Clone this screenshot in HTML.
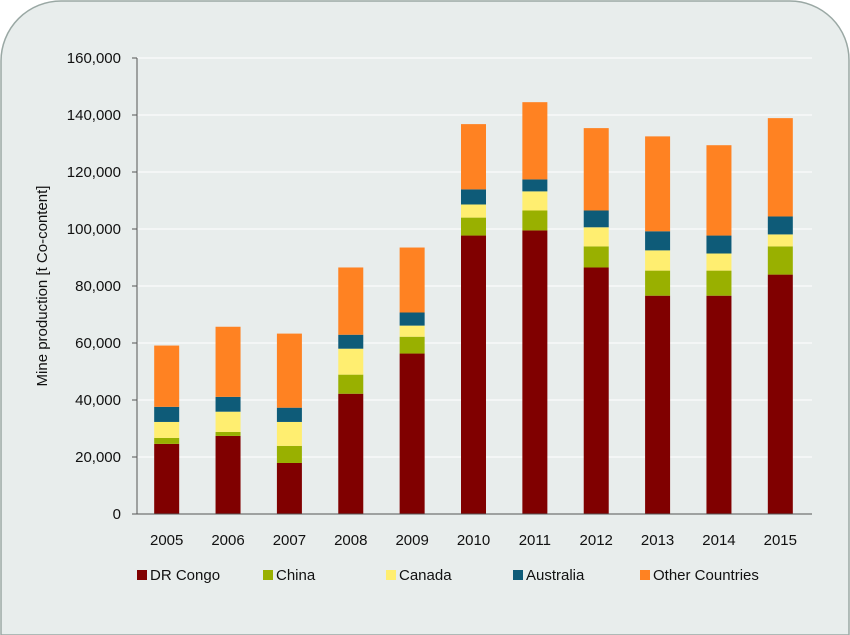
<!DOCTYPE html>
<html><head><meta charset="utf-8"><style>
body{margin:0;background:#fff;width:850px;height:635px;overflow:hidden}
svg{display:block;font-family:"Liberation Sans",sans-serif;overflow:hidden}
</style></head><body>
<svg id="chart" width="850" height="635">
<path d="M1,635 V61 A60,60 0 0 1 61,1 H790 A59,59 0 0 1 849,60 V635 Z" fill="#e8edec" stroke="#9aa8a4" stroke-width="1.5"/>
<g id="grid"></g><g id="bars"></g><g id="axes"></g><g id="legend"></g>
<text x="0" y="0" transform="translate(47,286) rotate(-90)" text-anchor="middle" font-size="15" fill="#111">Mine production [t Co-content]</text>
</svg>
<script>
const years=["2005","2006","2007","2008","2009","2010","2011","2012","2013","2014","2015"];
const drCongo=[24600,27400,17900,42200,56300,97700,99500,86500,76600,76600,84000];
const china=[2100,1400,6000,6700,5900,6300,7000,7400,8800,8800,9900];
const canada=[5600,7100,8400,9100,3900,4600,6700,6700,7100,6000,4200];
const australia=[5300,5200,5000,4900,4600,5300,4200,5900,6700,6300,6300];
const other=[21500,24600,26000,23600,22800,22900,27100,28900,33300,31700,34500];
const yTicks=[0,20000,40000,60000,80000,100000,120000,140000,160000];
const seriesNames=["DR Congo","China","Canada","Australia","Other Countries"];
const seriesData=[drCongo,china,canada,australia,other];
const colors=["#800000","#99b000","#ffee70","#0e5b78","#ff8222"];
const NS="http://www.w3.org/2000/svg";
const x0=137,x1=812,yBase=514,yTop=58,yMax=160000;
const step=(x1-x0)/years.length,bw=25;
function ys(v){return yBase-(v/yMax)*(yBase-yTop);}
function xc(i){return x0+step*(i+0.5)-1;}
function mk(t,a,p){const e=document.createElementNS(NS,t);for(const k in a)e.setAttribute(k,a[k]);p.appendChild(e);return e;}
const grid=document.getElementById('grid'),bars=document.getElementById('bars'),axes=document.getElementById('axes'),legend=document.getElementById('legend');
yTicks.forEach(v=>{const y=ys(v);
 if(v>0){const g=mk('line',{x1:x0,x2:x1,y1:y,y2:y,stroke:'#fff','stroke-width':1},grid);
 
 }
 const tk=mk('line',{x1:x0-5,x2:x0,y1:y,y2:y,stroke:'#555'},axes);
 
 
 const t=mk('text',{x:x0-16,y:y+5,'text-anchor':'end','font-size':15,fill:'#111'},axes);t.textContent=v.toLocaleString('en-US');
 
 
});
const ax=mk('line',{x1:x0,x2:x0,y1:yTop,y2:yBase,stroke:'#555'},axes);


const bx=mk('line',{x1:x0,x2:x1,y1:yBase,y2:yBase,stroke:'#555'},axes);


years.forEach((yr,i)=>{let cum=0;
 seriesData.forEach((s,k)=>{const a=ys(cum),b=ys(cum+s[i]);cum+=s[i];
  const r=mk('rect',{x:xc(i)-bw/2,y:b,width:bw,height:a-b,fill:colors[k]},bars);
  
  });
 const t=mk('text',{x:xc(i),y:545,'text-anchor':'middle','font-size':15,fill:'#111'},axes);t.textContent=yr;
 
 
});
const lx=[137,263,386,513,640];
seriesNames.forEach((n,k)=>{const g=mk('g',{},legend);
 
 
 mk('rect',{x:lx[k],y:570,width:10,height:10,fill:colors[k]},g);
 const t=mk('text',{x:lx[k]+13,y:580,'font-size':15,fill:'#111'},g);t.textContent=n;});
</script>
</body></html>
